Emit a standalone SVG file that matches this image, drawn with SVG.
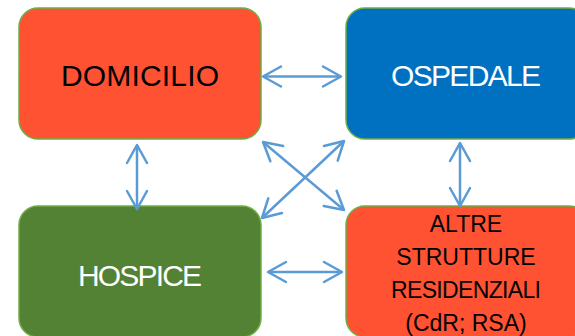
<svg xmlns="http://www.w3.org/2000/svg" width="575" height="336" viewBox="0 0 575 336">
  <style>
    .box { stroke: #70AD47; stroke-width: 1.5; }
    .red { fill: #FF5233; }
    .blue { fill: #0070C0; }
    .green { fill: #548235; }
    .lbl { font-family: "Liberation Sans", Arial, sans-serif; text-anchor: middle; }
    .big { font-size: 30px; }
    .small { font-size: 23px; }
    .dark { fill: #000000; }
    .light { fill: #FFFFFF; }
    .link { fill: none; stroke: #5B9BD5; stroke-width: 2.5; marker-start: url(#head); marker-end: url(#head); }
  </style>
  <defs>
    <marker id="head" viewBox="-21 -12 24 24" refX="0" refY="0" markerWidth="24" markerHeight="24" markerUnits="userSpaceOnUse" orient="auto-start-reverse">
      <path d="M-18,-10 L0,0 L-18,10" fill="none" stroke="#5B9BD5" stroke-width="2.5" stroke-linejoin="round" stroke-linecap="round"/>
    </marker>
  </defs>
  <rect width="575" height="336" fill="#FFFFFF"/>

  <g id="domicilio">
    <rect class="box red" x="19" y="8" width="242" height="131" rx="19"/>
    <text class="lbl big dark" x="140" y="86" textLength="158">DOMICILIO</text>
  </g>
  <g id="ospedale">
    <rect class="box blue" x="346" y="8" width="242" height="131" rx="19"/>
    <text class="lbl big light" x="466" y="86" textLength="150">OSPEDALE</text>
  </g>
  <g id="hospice">
    <rect class="box green" x="19" y="206" width="242" height="131" rx="19"/>
    <text class="lbl big light" x="140" y="286" textLength="124">HOSPICE</text>
  </g>
  <g id="altre-strutture">
    <rect class="box red" x="346" y="206" width="242" height="131" rx="19"/>
    <text class="lbl small dark" x="466" y="231.5">ALTRE</text>
    <text class="lbl small dark" x="466" y="264.5">STRUTTURE</text>
    <text class="lbl small dark" x="466" y="297.5" textLength="150">RESIDENZIALI</text>
    <text class="lbl small dark" x="466" y="330.5">(CdR; RSA)</text>
  </g>

  <g id="connectors">
    <line class="link" x1="263" y1="76.5" x2="341" y2="76.5"/>
    <line class="link" x1="268" y1="272" x2="342" y2="272"/>
    <line class="link" x1="137" y1="145" x2="137" y2="209"/>
    <line class="link" x1="460" y1="143" x2="460" y2="206"/>
    <line class="link" x1="263" y1="142" x2="344" y2="210"/>
    <line class="link" x1="344" y1="141" x2="262" y2="218"/>
  </g>
</svg>
